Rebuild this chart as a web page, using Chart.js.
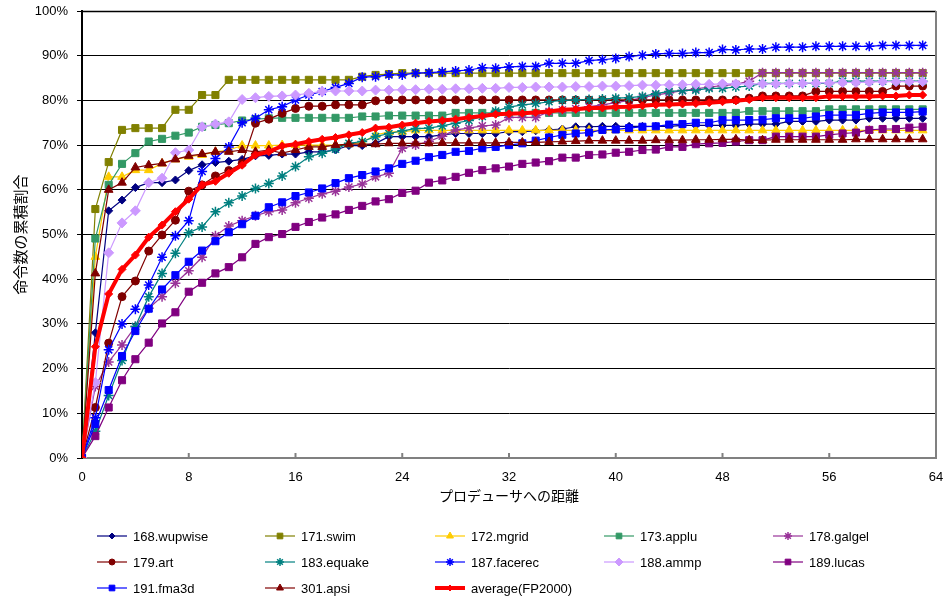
<!DOCTYPE html>
<html>
<head>
<meta charset="utf-8">
<script src="https://cdn.jsdelivr.net/npm/chart.js"></script>
<style>
body{margin:0;background:#fff;}
#wrap{width:948px;height:600px;}
</style>
</head>
<body>
<div id="wrap"><canvas id="cumChart" width="948" height="600"></canvas></div>
<script>
// distance from producer (0..63)
const distance=[0,1,2,3,4,5,6,7,8,9,10,11,12,13,14,15,16,17,18,19,20,21,22,23,24,25,26,27,28,29,30,31,
  32,33,34,35,36,37,38,39,40,41,42,43,44,45,46,47,48,49,50,51,52,53,54,55,56,57,58,59,60,61,62,63]

const seriesNames=['168.wupwise','171.swim','172.mgrid','173.applu','178.galgel','179.art','183.equake',
  '187.facerec','188.ammp','189.lucas','191.fma3d','301.apsi','average(FP2000)']

// cumulative ratio (%)
const wupwise=[0,28,55.3,57.7,60.5,61.6,61.6,62.2,64.3,65.6,66.1,66.4,66.8,67.6,67.7,68.0,68.0,68.5,68.5,68.9,69.9,69.9,
  70.4,71.9,71.9,71.9,71.9,72.3,72.6,72.6,72.6,72.6,73.0,73.0,73.2,73.4,73.6,74.1,74.1,74.2,74.2,74.2,74.2,74.2,74.2,
  74.4,74.4,74.4,74.4,74.4,74.7,74.7,74.7,75.3,75.3,75.3,75.6,75.6,75.6,76.0,76.0,76.0,76.0,76.0]
const swim=[0,55.7,66.2,73.4,73.8,73.8,73.8,77.9,77.9,81.2,81.2,84.6,84.6,84.6,84.6,84.6,84.6,84.6,84.6,84.6,84.6,
  85.3,85.7,85.9,86.1,86.1,86.1,86.1,86.1,86.1,86.1,86.1,86.1,86.1,86.1,86.1,86.1,86.1,86.1,86.1,86.1,86.1,86.1,86.1,
  86.1,86.1,86.1,86.1,86.1,86.1,86.1,86.1,86.1,86.1,86.1,86.1,86.1,86.1,86.1,86.1,86.1,86.1,86.1,86.1]
const mgrid=[0,45.0,62.9,62.9,64.4,64.4,65.9,66.8,67.4,67.8,68.5,68.9,69.9,69.9,69.9,70.0,70.0,70.0,70.0,70.0,70.2,
  70.6,72.3,72.9,73.0,73.3,73.3,73.3,73.3,73.3,73.3,73.3,73.3,73.3,73.3,73.3,73.3,73.3,73.3,73.3,73.3,73.3,73.3,73.3,
  73.3,73.3,73.3,73.3,73.3,73.3,73.3,73.3,73.3,73.3,73.3,73.3,73.3,73.3,73.3,73.3,73.3,73.3,73.3,73.3]
const applu=[0,49.1,61.1,65.8,68.2,70.8,71.4,72.1,72.8,74.1,74.5,74.9,75.5,75.8,76.0,76.1,76.1,76.1,76.1,76.1,76.1,
  76.4,76.4,76.6,76.6,76.6,76.6,76.6,77.2,77.2,77.2,77.2,77.2,77.2,77.2,77.2,77.2,77.2,77.2,77.2,77.2,77.2,77.2,77.2,
  77.2,77.2,77.2,77.2,77.2,77.2,77.6,77.6,77.6,77.6,77.6,77.6,78.0,78.0,78.0,78.0,78.0,78.0,78.0,78.0]
const galgel=[0,16,21.5,25.3,29.4,33.5,36.1,39.1,41.9,44.9,49.7,51.9,53.1,54.2,55.1,55.5,57.1,58.1,59.1,59.7,60.6,
  61.3,62.9,63.7,69.3,70.0,70.8,72.0,73.4,73.8,74.3,74.5,76.2,76.2,76.2,77.5,77.9,78.2,78.6,79.0,79.5,80.0,80.6,81.2,
  81.7,82.2,82.6,83.0,83.3,83.6,84.3,86.2,86.2,86.2,86.2,86.2,86.2,86.2,86.2,86.2,86.2,86.2,86.2,86.2]
const art=[0,11.3,25.7,36.1,39.6,46.3,49.9,53.2,59.7,61.1,63.1,64.3,65.9,74.9,75.8,77.1,78.2,78.7,78.7,79.0,79.0,
  79.0,79.9,80.1,80.1,80.1,80.1,80.1,80.1,80.1,80.1,80.1,80.1,80.1,80.1,80.1,80.1,80.1,80.1,80.1,80.1,80.1,80.1,80.1,
  80.1,80.1,80.1,80.1,80.1,80.1,80.5,81.0,81.0,81.0,81.0,82.0,82.0,82.0,82.0,82.0,82.0,83.2,83.2,83.2]
const equake=[0,6,14,21.8,29.4,36.1,41.3,45.8,50.4,51.7,55.1,57.1,58.6,60.3,61.4,63.1,65.2,67.4,68.2,69.1,70.4,
  70.8,71.9,72.6,73.2,73.7,73.8,74.3,74.9,75.5,76.4,77.6,78.5,79.0,79.3,79.7,80.0,80.1,80.2,80.3,80.5,80.6,80.9,81.5,
  82.0,82.2,82.3,82.7,82.7,83.0,83.2,83.8,83.8,83.8,83.8,83.8,83.8,84.3,84.3,84.3,84.3,84.3,84.3,84.3]
const facerec=[0,9,24.2,30.0,33.3,38.7,44.9,49.7,53.1,64.1,67.0,69.6,75.0,76.0,77.9,78.6,80.1,81.2,82.0,82.9,83.8,
  85.2,85.3,85.7,85.7,86.1,86.2,86.4,86.6,86.8,87.3,87.2,87.5,87.6,87.6,88.3,88.3,88.3,88.9,89.1,89.4,89.8,90.1,90.4,
  90.5,90.5,90.7,90.7,91.4,91.3,91.5,91.5,91.9,91.9,91.9,92.1,92.1,92.1,92.1,92.1,92.3,92.3,92.3,92.3]
const ammp=[0,16.9,45.9,52.6,55.3,61.6,62.6,68.3,68.9,74.1,74.7,75.2,80.2,80.6,80.9,81.0,81.2,81.6,82.0,82.1,82.1,
  82.1,82.3,82.3,82.4,82.4,82.5,82.5,82.6,82.6,82.7,82.7,82.9,82.9,83.0,83.0,83.0,83.1,83.1,83.2,83.2,83.3,83.4,83.4,
  83.5,83.5,83.6,83.6,83.7,83.7,83.7,83.7,83.7,83.8,83.8,83.9,83.9,84.0,84.0,84.1,84.2,84.2,84.2,84.2]
const lucas=[0,4.9,11.3,17.4,22.1,25.8,30.1,32.6,37.2,39.2,41.3,42.7,44.9,47.9,49.4,50.1,51.7,52.8,53.8,54.5,55.5,
  56.4,57.4,57.9,59.3,59.8,61.6,62.1,62.9,63.8,64.4,64.8,65.2,65.8,66.1,66.4,67.2,67.2,67.8,67.9,68.3,68.5,68.9,69.0,
  69.6,69.6,70.2,70.4,70.5,70.8,71.1,71.1,71.9,71.9,71.9,71.9,72.3,72.6,72.8,73.4,73.6,73.6,73.9,74.1]
const fma3d=[0,7.6,15.2,22.8,28.4,33.4,37.7,40.9,43.9,46.4,48.5,50.5,52.3,54.2,56.1,57.2,58.6,59.4,60.3,61.5,62.6,
  63.3,64.1,64.8,65.8,66.5,67.3,67.8,68.5,68.7,69.3,69.6,70.0,70.4,71.0,71.7,72.3,72.6,72.8,73.4,73.5,73.8,74.1,74.2,
  74.6,74.7,75.0,75.0,75.6,75.6,75.6,75.7,76.0,76.0,76.0,76.4,76.7,76.7,76.7,77.1,77.3,77.3,77.3,77.5]
const apsi=[0,41.3,60.0,61.6,65.0,65.5,65.9,66.8,67.6,68.0,68.5,68.5,68.9,68.5,68.9,68.2,68.9,69.6,69.6,70.0,70.2,
  70.2,70.2,70.4,70.4,70.4,70.4,70.5,70.5,70.5,70.5,70.5,70.6,70.6,70.6,70.7,70.8,70.9,71.0,71.0,71.0,71.0,71.0,71.1,
  71.1,71.1,71.2,71.2,71.3,71.3,71.1,71.1,71.2,71.2,71.2,71.2,71.2,71.2,71.3,71.3,71.3,71.3,71.3,71.3]
const average=[0,24.9,36.7,42.2,45.4,49.4,52.1,55.1,57.9,61.1,61.9,63.7,65.5,67.8,68.5,69.8,70.2,70.8,71.3,71.7,72.3,
  72.8,73.8,74.0,74.5,74.9,75.3,75.5,75.8,76.2,76.5,76.9,77.0,77.1,77.3,77.5,77.9,78.0,78.3,78.3,78.5,78.6,78.8,79.0,
  79.1,79.2,79.3,79.5,79.7,79.9,80.2,80.6,80.6,80.6,80.6,80.6,80.9,80.9,80.9,80.9,81.0,81.0,81.2,81.2]

const allSeries=[wupwise,swim,mgrid,applu,galgel,art,equake,facerec,ammp,lucas,fma3d,apsi,average]
const colors=['#000080','#808000','#FFCC00','#339966','#993399','#800000','#008080','#0000FF','#CC99FF','#800080','#0000FF','#800000','#FF0000']
const markers=['rectRot','rect','triangle','rect','star','circle','star','star','rectRot','rect','rect','triangle','rectRot']
const markerSize=[4,5,5,5,5,4,5,5,5,5,5,5,4]

function buildDatasets(){
    let sets=[]
    for (let i=0;i<allSeries.length;i++){
        let isAvg = i==allSeries.length-1
        sets.push({
            label: seriesNames[i],
            data: allSeries[i].map((v,k)=>({x:distance[k],y:v})),
            borderColor: colors[i],
            backgroundColor: colors[i],
            pointBorderColor: colors[i],
            pointBackgroundColor: colors[i],
            pointStyle: markers[i],
            pointRadius: markerSize[i],
            pointBorderWidth: markers[i]=='star' ? 1.5 : 1,
            borderWidth: isAvg ? 4 : 1.2,
            tension: 0,
            fill: false,
            order: allSeries.length-i
        })
    }
    return sets
}

// frame, inner x ticks and the 5-column legend
const extras={
    id:'extras',
    beforeDatasetsDraw(chart){
        let c=chart.ctx, a=chart.chartArea, xs=chart.scales.x
        c.save()
        c.strokeStyle='#000'; c.lineWidth=1.5
        c.beginPath(); c.moveTo(a.left,a.top+0.5); c.lineTo(a.right,a.top+0.5); c.stroke()
        c.strokeStyle='#808080'; c.lineWidth=2
        c.beginPath(); c.moveTo(a.right,a.top); c.lineTo(a.right,a.bottom); c.stroke()
        c.lineWidth=2
        for (let t=8;t<=56;t+=8){
            let px=xs.getPixelForValue(t)
            c.beginPath(); c.moveTo(px,a.bottom); c.lineTo(px,a.bottom-5); c.stroke()
        }
        c.restore()
    },
    afterDraw(chart){
        let c=chart.ctx
        let colX=[97,265,435,604,773], rowY=[536,562,588]
        c.save()
        for (let i=0;i<seriesNames.length;i++){
            let x=colX[i%5], y=rowY[Math.floor(i/5)]
            let isAvg = i==seriesNames.length-1
            c.strokeStyle=colors[i]; c.fillStyle=colors[i]
            c.lineWidth = isAvg ? 4 : 1.2
            c.beginPath(); c.moveTo(x,y); c.lineTo(x+30,y); c.stroke()
            c.lineWidth = markers[i]=='star' ? 1.5 : 1
            Chart.helpers.drawPoint(c,{pointStyle:markers[i],radius:markerSize[i]-1,rotation:0,borderWidth:c.lineWidth},x+15,y)
            c.fillStyle='#000'
            c.font='13px "Liberation Sans", Arial, sans-serif'
            c.textBaseline='middle'; c.textAlign='left'
            c.fillText(seriesNames[i],x+36,y+1)
        }
        c.restore()
    }
}

let cfg={
    type:'line',
    data:{ datasets: buildDatasets() },
    options:{
        responsive:false,
        animation:false,
        layout:{ padding:{top:11,right:12,left:0,bottom:92} },
        plugins:{ legend:{display:false}, tooltip:{enabled:false} },
        scales:{
            x:{
                type:'linear', min:0, max:64,
                afterFit(s){ s.height=50; s.paddingLeft=0; s.paddingRight=0 },
                border:{color:'#808080',width:2},
                grid:{drawOnChartArea:false,drawTicks:false},
                ticks:{stepSize:8,padding:12,color:'#000',font:{family:'"Liberation Sans", Arial',size:13}},
                title:{display:true,text:'プロデューサへの距離',color:'#000',
                       font:{family:'"Noto Sans CJK JP"',size:14}}
            },
            y:{
                min:0, max:100,
                afterFit(s){ s.width=82; s.paddingTop=0; s.paddingBottom=0 },
                border:{color:'#000',width:2},
                grid:{color:'#000',lineWidth:1,tickLength:5,tickColor:'#000'},
                ticks:{stepSize:10,padding:9,color:'#000',font:{family:'"Liberation Sans", Arial',size:13},
                       callback:v=>v+'%'},
                title:{display:true,text:'命令数の累積割合',color:'#000',padding:{top:11,bottom:4},
                       font:{family:'"Noto Sans CJK JP"',size:15}}
            }
        }
    },
    plugins:[extras]
}

let ctx=document.getElementById('cumChart').getContext('2d')
new Chart(ctx,cfg)
</script>
</body>
</html>
